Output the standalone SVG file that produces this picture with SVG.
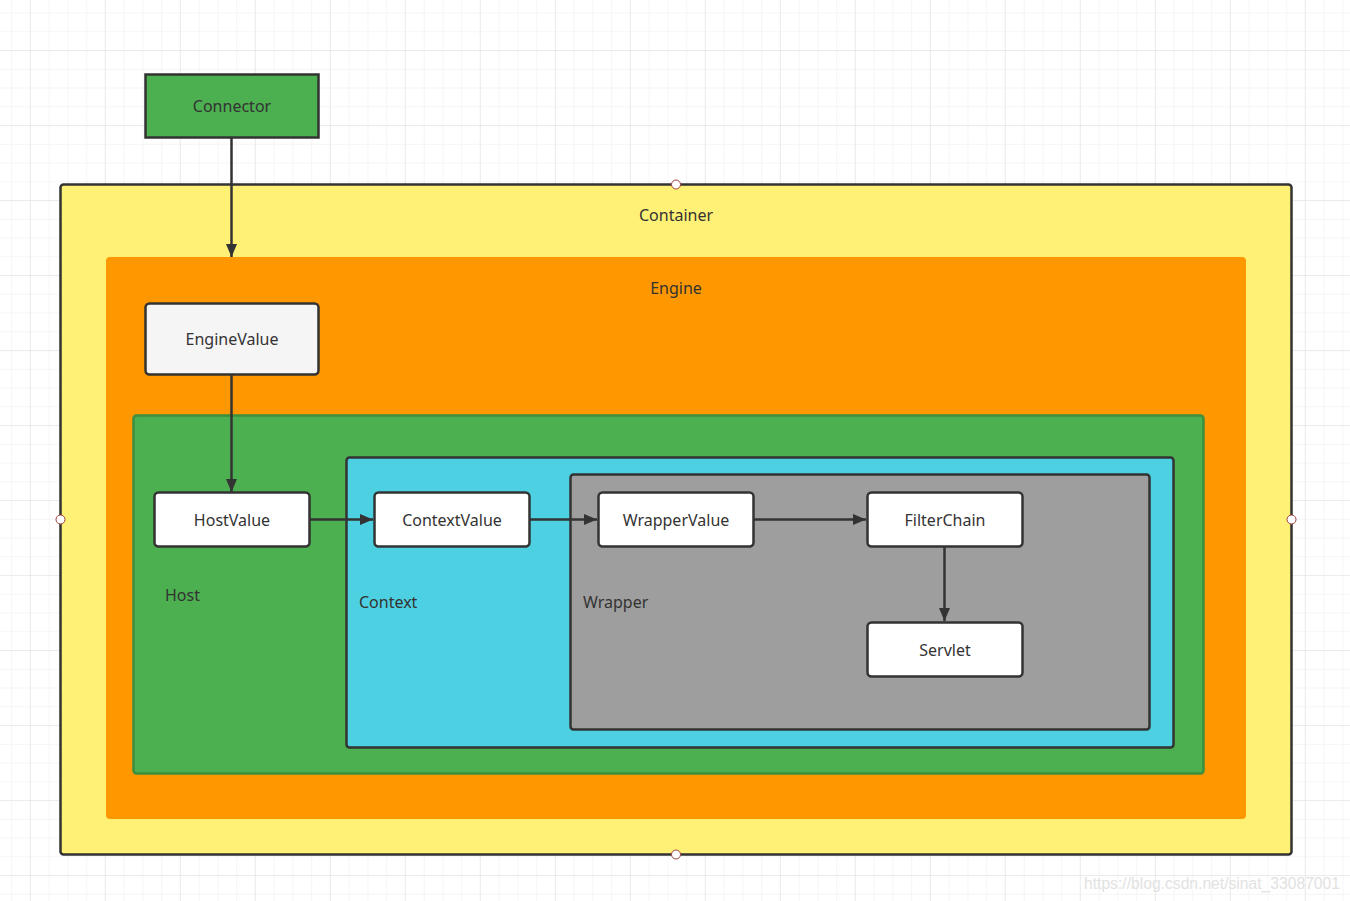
<svg xmlns="http://www.w3.org/2000/svg" width="1350" height="901" viewBox="0 0 1350 901">
<defs>
<pattern id="minor" x="-6.55" y="-5.25" width="18.75" height="18.75" patternUnits="userSpaceOnUse">
<path d="M18.75 0V18.75M0 18.75H18.75" fill="none" stroke="#ececec" stroke-width="1"/>
</pattern>
<pattern id="major" x="-44.3" y="-23.9" width="75" height="75" patternUnits="userSpaceOnUse">
<path d="M75 0V75M0 75H75" fill="none" stroke="#e0e0e0" stroke-width="1"/>
</pattern>
<marker id="arr" viewBox="0 0 13 11" refX="13" refY="5.5" markerWidth="13" markerHeight="11" markerUnits="userSpaceOnUse" orient="auto">
<path d="M0 0L13 5.5L0 11Z" fill="#333"/>
</marker>
<style>
.lbl{font-family:"Noto Sans","Open Sans","DejaVu Sans",sans-serif;font-size:16px;fill:#333}
.mid{text-anchor:middle}
.node{fill:#fff;stroke:#333;stroke-width:2.5}
.edge{fill:none;stroke:#333;stroke-width:2.5}
.handle{fill:#fff;stroke:#a0403c;stroke-width:1}
</style>
</defs>
<rect width="1350" height="901" fill="#fff"/>
<rect width="1350" height="901" fill="url(#minor)"/>
<rect width="1350" height="901" fill="url(#major)"/>

<g id="container">
<rect x="60.5" y="184.5" width="1231" height="670" rx="3" fill="#fff176" stroke="#333" stroke-width="2.5"/>
<text class="lbl mid" x="676" y="221">Container</text>
</g>
<g id="engine">
<rect x="106" y="257" width="1140" height="562" rx="4" fill="#ff9800"/>
<text class="lbl mid" x="676" y="294">Engine</text>
</g>
<g id="host">
<rect x="133.5" y="415.5" width="1070" height="358" rx="3" fill="#4caf50" stroke="#3b8f3f" stroke-width="2.5"/>
<text class="lbl" x="165" y="601">Host</text>
</g>
<g id="context">
<rect x="346.5" y="457.5" width="827" height="290" rx="3" fill="#4dd0e1" stroke="#333" stroke-width="2.5"/>
<text class="lbl" x="359" y="608">Context</text>
</g>
<g id="wrapper">
<rect x="570.5" y="474.5" width="579" height="255" rx="3" fill="#9e9e9e" stroke="#333" stroke-width="2.5"/>
<text class="lbl" x="583" y="608">Wrapper</text>
</g>

<g id="connector">
<rect x="145.5" y="74.5" width="173" height="63" fill="#4caf50" stroke="#333" stroke-width="2.5"/>
<text class="lbl mid" x="232" y="112">Connector</text>
</g>
<g id="enginevalue">
<rect x="145.5" y="303.5" width="173" height="71" rx="4" fill="#f5f5f5" stroke="#333" stroke-width="2.5"/>
<text class="lbl mid" x="232" y="345">EngineValue</text>
</g>
<g id="hostvalue">
<rect class="node" x="154.5" y="492.5" width="155" height="54" rx="4"/>
<text class="lbl mid" x="232" y="526">HostValue</text>
</g>
<g id="contextvalue">
<rect class="node" x="374.5" y="492.5" width="155" height="54" rx="4"/>
<text class="lbl mid" x="452" y="526">ContextValue</text>
</g>
<g id="wrappervalue">
<rect class="node" x="598.5" y="492.5" width="155" height="54" rx="4"/>
<text class="lbl mid" x="676" y="526">WrapperValue</text>
</g>
<g id="filterchain">
<rect class="node" x="867.5" y="492.5" width="155" height="54" rx="4"/>
<text class="lbl mid" x="945" y="526">FilterChain</text>
</g>
<g id="servlet">
<rect class="node" x="867.5" y="622.5" width="155" height="54" rx="4"/>
<text class="lbl mid" x="945" y="656">Servlet</text>
</g>

<g id="connectors">
<path class="edge" d="M231.5 138V257" marker-end="url(#arr)"/>
<path class="edge" d="M231.5 375V492" marker-end="url(#arr)"/>
<path class="edge" d="M310 519.5H373" marker-end="url(#arr)"/>
<path class="edge" d="M530 519.5H597" marker-end="url(#arr)"/>
<path class="edge" d="M754 519.5H866" marker-end="url(#arr)"/>
<path class="edge" d="M944.5 547V621" marker-end="url(#arr)"/>
</g>

<g id="handles">
<circle class="handle" cx="676" cy="184.5" r="4.5"/>
<circle class="handle" cx="60.5" cy="519.5" r="4.5"/>
<circle class="handle" cx="1291.5" cy="519.5" r="4.5"/>
<circle class="handle" cx="676" cy="854.5" r="4.5"/>
</g>

<text x="1084" y="889" font-family="'Liberation Sans',Arial,sans-serif" font-size="16" textLength="256" lengthAdjust="spacingAndGlyphs" fill="#e2e2e2">https://blog.csdn.net/sinat_33087001</text>
</svg>
